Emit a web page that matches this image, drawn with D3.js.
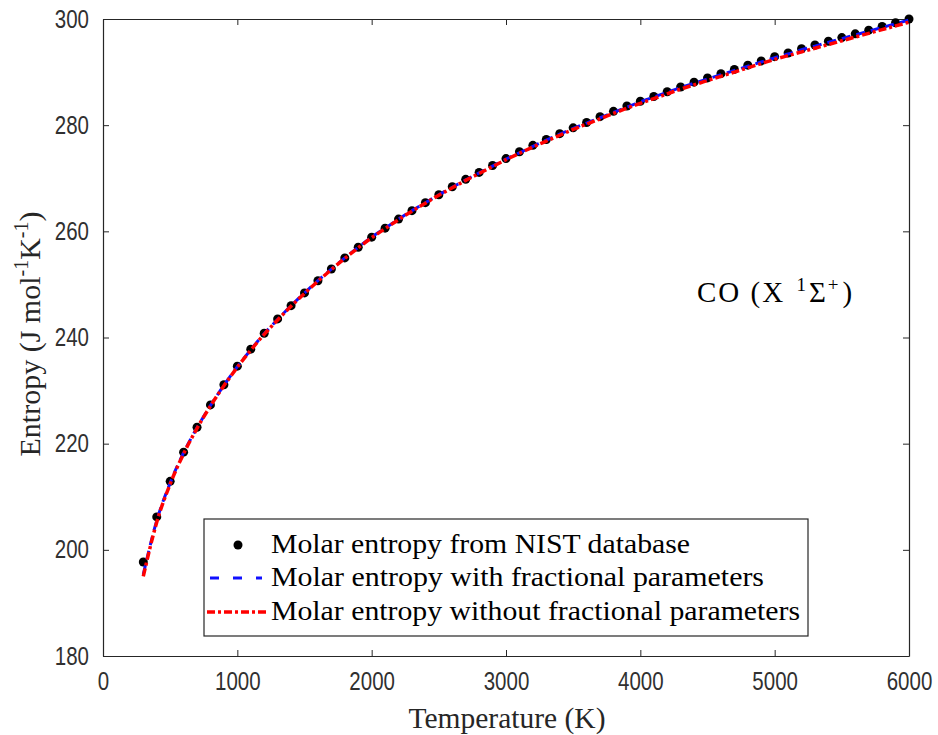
<!DOCTYPE html>
<html>
<head>
<meta charset="utf-8">
<script src="https://cdn.jsdelivr.net/npm/d3@7"></script>
<style>
  body { margin: 0; background: #fff; }
</style>
</head>
<body>
<script>
// temperatures (K), one point every 100 K
var temps = [300, 400, 500, 600, 700, 800, 900, 1000, 1100, 1200, 1300, 1400, 1500, 1600, 1700, 1800, 1900, 2000,
  2100, 2200, 2300, 2400, 2500, 2600, 2700, 2800, 2900, 3000, 3100, 3200, 3300, 3400, 3500, 3600, 3700, 3800, 3900, 4000,
  4100, 4200, 4300, 4400, 4500, 4600, 4700, 4800, 4900, 5000, 5100, 5200, 5300, 5400, 5500, 5600, 5700, 5800, 5900, 6000];

// NIST points
var nist = [197.7, 206.2, 212.9, 218.4, 223.1, 227.3, 231.1, 234.6, 237.8, 240.8, 243.5, 246.0, 248.4, 250.7, 252.9, 255.0, 257.0, 258.9,
  260.6, 262.3, 263.9, 265.4, 266.9, 268.4, 269.8, 271.1, 272.4, 273.7, 275.0, 276.2, 277.3, 278.4, 279.5, 280.5, 281.6, 282.6, 283.6, 284.5,
  285.4, 286.3, 287.2, 288.1, 288.9, 289.7, 290.5, 291.3, 292.1, 292.9, 293.6, 294.4, 295.1, 295.8, 296.5, 297.2, 297.9, 298.6, 299.3, 300.0];

// with fractional parameters (blue dashed)
var withFrac = [195.4, 205.5, 212.6, 218.3, 223.0, 227.2, 231.0, 234.5, 237.7, 240.7, 243.4, 246.0, 248.4, 250.7, 252.9, 255.0, 257.0, 258.9,
  260.6, 262.3, 263.9, 265.4, 266.9, 268.3, 269.7, 271.0, 272.3, 273.6, 274.8, 276.0, 277.2, 278.3, 279.4, 280.4, 281.4, 282.4, 283.4, 284.4,
  285.3, 286.2, 287.1, 287.9, 288.7, 289.5, 290.3, 291.1, 291.9, 292.7, 293.4, 294.2, 294.9, 295.6, 296.3, 297.0, 297.7, 298.4, 299.1, 299.8];

// without fractional parameters (red dash-dot)
var withoutFrac = [195.0, 205.2, 212.4, 218.1, 222.9, 227.1, 230.9, 234.4, 237.6, 240.6, 243.3, 245.9, 248.3, 250.6, 252.8, 254.9, 256.9, 258.8,
  260.5, 262.2, 263.8, 265.3, 266.8, 268.2, 269.6, 270.9, 272.2, 273.5, 274.7, 275.9, 277.0, 278.1, 279.2, 280.2, 281.2, 282.2, 283.2, 284.1,
  285.0, 285.9, 286.8, 287.6, 288.4, 289.2, 290.0, 290.8, 291.6, 292.4, 293.1, 293.8, 294.5, 295.2, 295.9, 296.6, 297.3, 298.0, 298.7, 299.4];

var xTicks = [0, 1000, 2000, 3000, 4000, 5000, 6000];
var yTicks = [180, 200, 220, 240, 260, 280, 300];
var legendLabels = ["Molar entropy from NIST database",
  "Molar entropy with fractional parameters",
  "Molar entropy without fractional parameters"];
var legendWidths = [419, 493, 529];

var width = 938;
var height = 735;
var pLeft = 103, pRight = 909, pTop = 19, pBottom = 656;
var axisColor = "#262626";
var serif = "'Liberation Serif', 'Times New Roman', serif";
var sans = "'Liberation Sans', Arial, sans-serif";

var svg = d3.select("body")
  .append("svg")
  .attr("width", width)
  .attr("height", height);

var xScale = d3.scaleLinear().domain([0, 6000]).range([pLeft, pRight]);
var yScale = d3.scaleLinear().domain([180, 300]).range([pBottom, pTop]);

// axes, ticks inward on all four sides
var xBottom = d3.axisBottom(xScale).tickValues(xTicks).tickSizeInner(-6).tickSizeOuter(0).tickPadding(16).tickFormat(d3.format("d"));
var xTop = d3.axisTop(xScale).tickValues(xTicks).tickSizeInner(-6).tickSizeOuter(0).tickFormat("");
var yLeft = d3.axisLeft(yScale).tickValues(yTicks).tickSizeInner(-6).tickSizeOuter(0).tickPadding(14).tickFormat(d3.format("d"));
var yRight = d3.axisRight(yScale).tickValues(yTicks).tickSizeInner(-6).tickSizeOuter(0).tickFormat("");

function styleAxis(g) {
  g.select(".domain").attr("stroke", axisColor).attr("stroke-width", 1.2);
  g.selectAll(".tick line").attr("stroke", axisColor).attr("stroke-width", 1);
  g.selectAll(".tick text")
    .attr("fill", "#303030")
    .attr("font-family", sans)
    .attr("font-size", "25px")
    .attr("textLength", function() { return this.textContent.length * 11.4; })
    .attr("lengthAdjust", "spacingAndGlyphs");
}

svg.append("g").attr("transform", "translate(0," + pBottom + ")").call(xBottom).call(styleAxis);
svg.append("g").attr("transform", "translate(0," + pTop + ")").call(xTop).call(styleAxis);
svg.append("g").attr("transform", "translate(" + pLeft + ",0)").call(yLeft).call(styleAxis);
svg.append("g").attr("transform", "translate(" + pRight + ",0)").call(yRight).call(styleAxis);

// NIST points (drawn first, model curves go on top)
svg.selectAll("circle.pt")
  .data(nist)
  .enter()
  .append("circle")
  .attr("class", "pt")
  .attr("cx", (d, i) => xScale(temps[i]))
  .attr("cy", (d) => yScale(d))
  .attr("r", 4.5)
  .attr("fill", "#000");

// lines
var line = function(values) {
  return d3.line()
    .x((d, i) => xScale(temps[i]))
    .y((d) => yScale(d))
    .curve(d3.curveMonotoneX)(values);
};

svg.append("path")
  .attr("d", line(withFrac))
  .attr("fill", "none")
  .attr("stroke", "#1010ff")
  .attr("stroke-width", 3)
  .attr("stroke-dasharray", "9,6");

svg.append("path")
  .attr("d", line(withoutFrac))
  .attr("fill", "none")
  .attr("stroke", "#ff0000")
  .attr("stroke-width", 3.5)
  .attr("stroke-dasharray", "8,3,3,3");

// axis titles
svg.append("text")
  .text("Temperature (K)")
  .attr("x", 507)
  .attr("y", 728)
  .attr("text-anchor", "middle")
  .attr("font-family", serif)
  .attr("font-size", "29px")
  .attr("textLength", 197)
  .attr("lengthAdjust", "spacingAndGlyphs")
  .attr("fill", axisColor);

var yTitle = svg.append("text")
  .attr("transform", "translate(40,334) rotate(-90)")
  .attr("text-anchor", "middle")
  .attr("font-family", serif)
  .attr("font-size", "30px")
  .attr("fill", axisColor);
yTitle.append("tspan").text("Entropy (J mol");
yTitle.append("tspan").text("-1").attr("dy", -12).attr("font-size", "20px");
yTitle.append("tspan").text("K").attr("dy", 12);
yTitle.append("tspan").text("-1").attr("dy", -12).attr("font-size", "20px");
yTitle.append("tspan").text(")").attr("dy", 12);

// species annotation
var note = svg.append("text")
  .attr("x", 697)
  .attr("y", 302)
  .attr("font-family", serif)
  .attr("font-size", "29px")
  .attr("letter-spacing", "2px")
  .attr("fill", "#000");
note.append("tspan").text("CO (X ");
note.append("tspan").text("1").attr("dx", 2).attr("dy", -11).attr("font-size", "19px");
note.append("tspan").text("Σ").attr("dx", 1).attr("dy", 11);
note.append("tspan").text("+").attr("dy", -11).attr("font-size", "19px");
note.append("tspan").text(")").attr("dx", 2).attr("dy", 11);

// legend
var lg = svg.append("g");
lg.append("rect")
  .attr("x", 204).attr("y", 519)
  .attr("width", 604).attr("height", 117)
  .attr("fill", "#fff")
  .attr("stroke", axisColor)
  .attr("stroke-width", 1.2);

var rowY = [545, 578, 612];
lg.append("circle").attr("cx", 238).attr("cy", rowY[0]).attr("r", 4.5).attr("fill", "#000");
lg.append("line").attr("x1", 210).attr("x2", 262).attr("y1", rowY[1]).attr("y2", rowY[1])
  .attr("stroke", "#1010ff").attr("stroke-width", 3).attr("stroke-dasharray", "9,14");
lg.append("line").attr("x1", 207).attr("x2", 267).attr("y1", rowY[2]).attr("y2", rowY[2])
  .attr("stroke", "#ff0000").attr("stroke-width", 3.5).attr("stroke-dasharray", "8,3,3,3");

lg.selectAll("text.lab")
  .data(legendLabels)
  .enter()
  .append("text")
  .attr("class", "lab")
  .text((d) => d)
  .attr("x", 271)
  .attr("y", (d, i) => rowY[i] + 8)
  .attr("font-family", serif)
  .attr("font-size", "27px")
  .attr("textLength", (d, i) => legendWidths[i])
  .attr("lengthAdjust", "spacingAndGlyphs")
  .attr("fill", "#000");
</script>
</body>
</html>
